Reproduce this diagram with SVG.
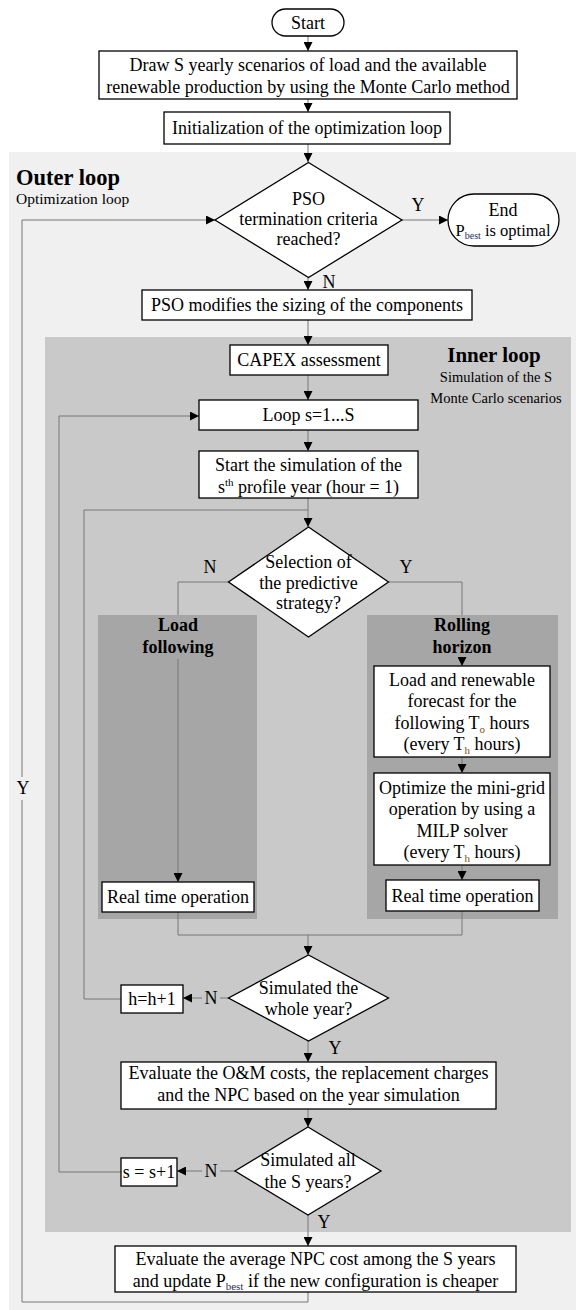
<svg xmlns="http://www.w3.org/2000/svg" width="576" height="1310" viewBox="0 0 576 1310">
<defs>
<style>
.t{font-family:"Liberation Serif","Times New Roman",serif;font-size:18px;fill:#000;text-anchor:middle}
.s{font-family:"Liberation Serif","Times New Roman",serif;font-size:14.5px;fill:#000;text-anchor:middle}
.b{font-family:"Liberation Serif","Times New Roman",serif;font-weight:bold;fill:#000;text-anchor:middle}
.box{fill:#fff;stroke:#000;stroke-width:1.3}
.c{fill:none;stroke:#777;stroke-width:1}
.a{fill:none;stroke:#777;stroke-width:1;marker-end:url(#ah)}
.sub{font-size:11px}
</style>
<marker id="ah" viewBox="0 0 10 10" refX="10" refY="5" markerWidth="9" markerHeight="9" markerUnits="userSpaceOnUse" orient="auto">
<path d="M0,0 L10,5 L0,10 z" fill="#000"/>
</marker>
</defs>
<rect width="576" height="1310" fill="#fff"/>
<g id="outer-loop">
<rect x="9" y="152" width="567" height="1158" fill="#f0f0f0"/>
<text class="b" x="16" y="185" style="text-anchor:start;font-size:22.5px">Outer loop</text>
<text class="s" x="16" y="204" style="text-anchor:start;font-size:15.5px">Optimization loop</text>
</g>
<g id="inner-loop">
<rect x="45" y="337" width="526" height="895" fill="#c9c9c9"/>
<text class="b" x="494" y="362" style="font-size:21px">Inner loop</text>
<text class="s" x="496" y="382">Simulation of the S</text>
<text class="s" x="496" y="403">Monte Carlo scenarios</text>
</g>
<g id="load-following">
<rect x="98" y="615" width="159" height="304" fill="#a6a6a6"/>
<text class="b" x="178" y="631" style="font-size:18px">Load</text>
<text class="b" x="178" y="653" style="font-size:18px">following</text>
</g>
<g id="rolling-horizon">
<rect x="367" y="615" width="191" height="304" fill="#a6a6a6"/>
<text class="b" x="462" y="631" style="font-size:18px">Rolling</text>
<text class="b" x="462" y="653" style="font-size:18px">horizon</text>
</g>
<g id="connectors">
<path class="a" d="M308,36 V51"/>
<path class="a" d="M308,99 V112"/>
<path class="a" d="M308,144 V162"/>
<path class="a" d="M402,220 H448"/>
<path class="a" d="M308,277.5 V290"/>
<path class="a" d="M308,320 V345"/>
<path class="a" d="M308,375 V400"/>
<path class="a" d="M308,430 V451"/>
<path class="a" d="M308,498 V527"/>
<path class="c" d="M228.5,582 H178 V615"/>
<path class="c" d="M388.5,582 H462 V615"/>
<path class="a" d="M178,659 V882"/>
<path class="a" d="M462,657 V666"/>
<path class="a" d="M462,757 V773"/>
<path class="a" d="M462,865 V880"/>
<path class="c" d="M178,912 V935 H462 V911"/>
<path class="a" d="M308,935 V955"/>
<path class="c" d="M228.5,998 H220"/>
<path class="a" d="M202,998 H183"/>
<path class="c" d="M121,999 H84 V510 H308"/>
<path class="a" d="M308,1041 V1062"/>
<path class="a" d="M308,1109 V1127"/>
<path class="c" d="M235,1171 H220"/>
<path class="a" d="M202,1171 H177"/>
<path class="a" d="M121,1172 H59 V416 H199"/>
<path class="a" d="M308,1215 V1246"/>
<path class="c" d="M308,1292 V1302 H22 V800"/>
<path class="a" d="M22,777 V220 H215"/>
<text class="t" x="23" y="794">Y</text>
<text class="t" x="418" y="211">Y</text>
<text class="t" x="329" y="288">N</text>
<text class="t" x="210" y="573">N</text>
<text class="t" x="406" y="573">Y</text>
<text class="t" x="211" y="1004">N</text>
<text class="t" x="335" y="1054">Y</text>
<text class="t" x="211" y="1177">N</text>
<text class="t" x="324" y="1228">Y</text>
</g>
<g id="start">
<rect class="box" x="272" y="9" width="72" height="27" rx="13.5"/>
<text class="t" x="308" y="28.5">Start</text>
</g>
<g id="draw-scenarios">
<rect class="box" x="99" y="51" width="418" height="48"/>
<text class="t" x="308" y="71">Draw S yearly scenarios of load and the available</text>
<text class="t" x="308" y="93">renewable production by using the Monte Carlo method</text>
</g>
<g id="init">
<rect class="box" x="164" y="112" width="286" height="32"/>
<text class="t" x="307" y="134">Initialization of the optimization loop</text>
</g>
<g id="pso-check">
<path class="box" d="M308.5,162.5 L402,220 L308.5,277.5 L215,220 Z"/>
<text class="t" x="308.5" y="205">PSO</text>
<text class="t" x="308.5" y="225">termination criteria</text>
<text class="t" x="308.5" y="245">reached?</text>
</g>
<g id="end">
<rect class="box" x="448" y="194" width="111" height="52" rx="26"/>
<text class="t" x="503" y="216">End</text>
<text class="t" x="503" y="236" style="font-size:16.5px">P<tspan class="sub" style="font-size:10px" dy="3" fill="#1f2f5f">best</tspan><tspan dy="-3"> is optimal</tspan></text>
</g>
<g id="pso-modify">
<rect class="box" x="142" y="290" width="330" height="30"/>
<text class="t" x="307" y="311">PSO modifies the sizing of the components</text>
</g>
<g id="capex">
<rect class="box" x="230" y="345" width="158" height="30"/>
<text class="t" x="309" y="366">CAPEX assessment</text>
</g>
<g id="loop-s">
<rect class="box" x="199" y="400" width="219" height="30"/>
<text class="t" x="308.5" y="421">Loop s=1...S</text>
</g>
<g id="start-sim">
<rect class="box" x="199" y="451" width="219" height="47"/>
<text class="t" x="308.5" y="471">Start the simulation of the</text>
<text class="t" x="308.5" y="493">s<tspan class="sub" dy="-7">th</tspan><tspan dy="7"> profile year (hour = 1)</tspan></text>
</g>
<g id="strategy">
<path class="box" d="M308.5,527 L388.5,582 L308.5,637 L228.5,582 Z"/>
<text class="t" x="308.5" y="568">Selection of</text>
<text class="t" x="308.5" y="589">the predictive</text>
<text class="t" x="308.5" y="609">strategy?</text>
</g>
<g id="rto-left">
<rect class="box" x="102" y="882" width="152" height="30"/>
<text class="t" x="178" y="903">Real time operation</text>
</g>
<g id="forecast">
<rect class="box" x="374" y="666" width="176" height="91"/>
<text class="t" x="462" y="685.5">Load and renewable</text>
<text class="t" x="462" y="707">forecast for the</text>
<text class="t" x="462" y="728.5">following T<tspan class="sub" dy="4" fill="#8a4a10">o</tspan><tspan dy="-4"> hours</tspan></text>
<text class="t" x="462" y="750">(every T<tspan class="sub" dy="4" fill="#8a4a10">h</tspan><tspan dy="-4"> hours)</tspan></text>
</g>
<g id="milp">
<rect class="box" x="374" y="773" width="176" height="92"/>
<text class="t" x="462" y="793.5">Optimize the mini-grid</text>
<text class="t" x="462" y="815">operation by using a</text>
<text class="t" x="462" y="836.5">MILP solver</text>
<text class="t" x="462" y="858">(every T<tspan class="sub" dy="4" fill="#8a4a10">h</tspan><tspan dy="-4"> hours)</tspan></text>
</g>
<g id="rto-right">
<rect class="box" x="386" y="880" width="153" height="31"/>
<text class="t" x="462.5" y="901.5">Real time operation</text>
</g>
<g id="year-check">
<path class="box" d="M308.5,955 L388.5,998 L308.5,1041 L228.5,998 Z"/>
<text class="t" x="308.5" y="994">Simulated the</text>
<text class="t" x="308.5" y="1015">whole year?</text>
</g>
<g id="h-inc">
<rect class="box" x="121" y="985" width="62" height="28"/>
<text class="t" x="152" y="1005">h=h+1</text>
</g>
<g id="om-eval">
<rect class="box" x="121" y="1062" width="375" height="47"/>
<text class="t" x="308.5" y="1079">Evaluate the O&amp;M costs, the replacement charges</text>
<text class="t" x="308.5" y="1101">and the NPC based on the year simulation</text>
</g>
<g id="all-check">
<path class="box" d="M308,1127 L381,1171 L308,1215 L235,1171 Z"/>
<text class="t" x="308" y="1166">Simulated all</text>
<text class="t" x="308" y="1188">the S years?</text>
</g>
<g id="s-inc">
<rect class="box" x="121" y="1158" width="56" height="28"/>
<text class="t" x="149" y="1178">s = s+1</text>
</g>
<g id="npc-eval">
<rect class="box" x="115" y="1246" width="401" height="46"/>
<text class="t" x="315.5" y="1265">Evaluate the average NPC cost among the S years</text>
<text class="t" x="315.5" y="1287">and update P<tspan class="sub" style="font-size:11px" dy="3" fill="#1f2f5f">best</tspan><tspan dy="-3"> if the new configuration is cheaper</tspan></text>
</g>
</svg>
